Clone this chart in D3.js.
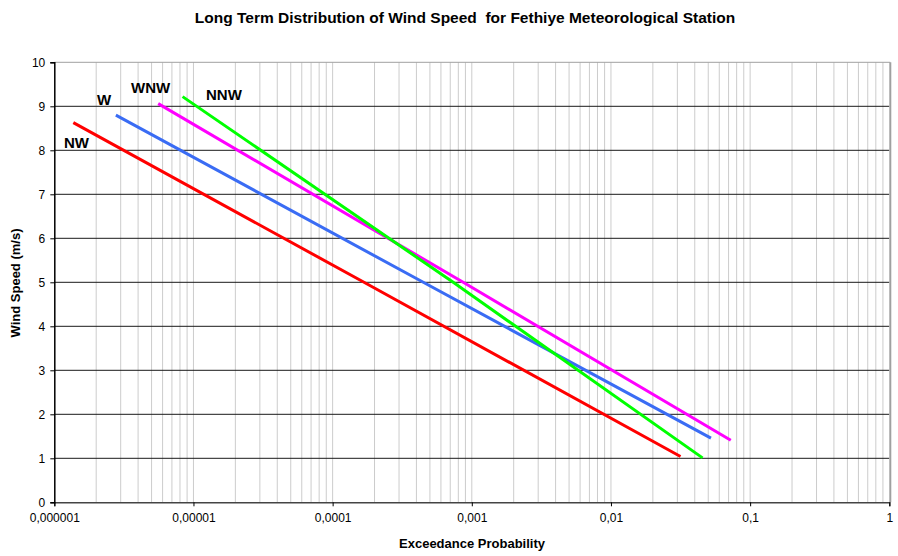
<!DOCTYPE html>
<html>
<head>
<meta charset="utf-8">
<script src="https://cdn.jsdelivr.net/npm/d3@7"></script>
<style>
  body { margin: 0; background: #fff; }
  text { font-family: "Liberation Sans", Arial, sans-serif; }
</style>
</head>
<body>
<svg width="898" height="556"></svg>
<script>
// wind speed vs exceedance probability, one line per direction
const directions = ["NW", "W", "WNW", "NNW"];
const colors = ["#ff0000", "#3a6cf4", "#ff00ff", "#00ff00"];

// values (start, middle, end of each line)
const probNW = [1.37e-6, 1.68e-4, 0.0316];
const speedNW = [8.63, 5, 1.04];
const probW = [2.77e-6, 4.48e-4, 0.0523];
const speedW = [8.8, 5, 1.46];
const probWNW = [5.58e-6, 8.67e-4, 0.0726];
const speedWNW = [9.06, 5, 1.41];
const probNNW = [8.35e-6, 7.35e-4, 0.0455];
const speedNNW = [9.22, 5, 1.01];

const xTicks = [1e-6, 1e-5, 1e-4, 1e-3, 1e-2, 1e-1, 1];
const xTickLabels = ["0,000001", "0,00001", "0,0001", "0,001", "0,01", "0,1", "1"];
const yTicks = [0, 1, 2, 3, 4, 5, 6, 7, 8, 9, 10];

const probs = [probNW, probW, probWNW, probNNW];
const speeds = [speedNW, speedW, speedWNW, speedNNW];

///////////// set up canvas
const svg = d3.select("svg"),
  width = +svg.attr("width"),
  height = +svg.attr("height");

const margin = { left: 54.3, right: 889.3, top: 62.3, bottom: 502.3 };

const x = d3.scaleLog().domain([1e-6, 1]).range([margin.left, margin.right]);
const y = d3.scaleLinear().domain([0, 10]).range([margin.bottom, margin.top]);

// light vertical grid at every 1..9 x 10^k
const minor = [];
for (let k = -6; k < 0; k++) {
  for (let m = 1; m <= 9; m++) minor.push(m * Math.pow(10, k));
}
svg
  .append("g")
  .selectAll("line")
  .data(minor.slice(1))
  .enter()
  .append("line")
  .attr("x1", (d) => x(d))
  .attr("x2", (d) => x(d))
  .attr("y1", margin.top)
  .attr("y2", margin.bottom)
  .attr("stroke", "#cccccc")
  .attr("stroke-width", 1);

// dark horizontal grid
svg
  .append("g")
  .selectAll("line")
  .data(yTicks.slice(1, -1))
  .enter()
  .append("line")
  .attr("x1", margin.left)
  .attr("x2", margin.right)
  .attr("y1", (d) => y(d))
  .attr("y2", (d) => y(d))
  .attr("stroke", "#1a1a1a")
  .attr("stroke-width", 1);

// plot border top and right
svg
  .append("line")
  .attr("x1", margin.left)
  .attr("x2", margin.right + 1)
  .attr("y1", margin.top)
  .attr("y2", margin.top)
  .attr("stroke", "#a0a0a0");
svg
  .append("line")
  .attr("x1", margin.right + 1)
  .attr("x2", margin.right + 1)
  .attr("y1", margin.top)
  .attr("y2", margin.bottom)
  .attr("stroke", "#a0a0a0")
  .attr("stroke-width", 2);

// axes
const xAxis = d3
  .axisBottom(x)
  .tickValues(xTicks)
  .tickSize(4)
  .tickFormat((d, i) => xTickLabels[i]);
const gx = svg
  .append("g")
  .attr("transform", `translate(0,${margin.bottom})`)
  .call(xAxis);
gx.select(".domain").attr("stroke", "#444").attr("stroke-width", 1.5);
gx.selectAll(".tick line").attr("stroke", "#000");
gx.selectAll(".tick text")
  .attr("font-size", 12)
  .attr("fill", "#000")
  .attr("font-family", "Liberation Sans, Arial, sans-serif")
  .attr("dy", "1.05em");

const yAxis = d3.axisLeft(y).tickValues(yTicks).tickSize(4).tickPadding(5);
const gy = svg
  .append("g")
  .attr("transform", `translate(${margin.left},0)`)
  .call(yAxis);
gy.select(".domain").attr("stroke", "#000").attr("stroke-width", 1.5);
gy.selectAll(".tick line").attr("stroke", "#000");
gy.selectAll(".tick text")
  .attr("font-size", 12)
  .attr("fill", "#000")
  .attr("font-family", "Liberation Sans, Arial, sans-serif");

// series lines
const line = d3
  .line()
  .x((d) => x(d[0]))
  .y((d) => y(d[1]));

svg
  .append("g")
  .selectAll("path")
  .data(directions)
  .enter()
  .append("path")
  .attr("fill", "none")
  .attr("stroke", (d, i) => colors[i])
  .attr("stroke-width", 3)
  .attr("d", (d, i) => {
    return line(probs[i].map((p, j) => [p, speeds[i][j]]));
  });

// direction labels placed near the start of each line
const labelPos = [
  [64, 148],
  [97, 105],
  [131, 93],
  [206, 100]
];
svg
  .append("g")
  .selectAll("text")
  .data(directions)
  .enter()
  .append("text")
  .attr("x", (d, i) => labelPos[i][0])
  .attr("y", (d, i) => labelPos[i][1])
  .attr("font-size", 15)
  .attr("font-weight", "bold")
  .text((d) => d);

// titles
svg
  .append("text")
  .attr("x", 465)
  .attr("y", 23)
  .attr("text-anchor", "middle")
  .attr("font-size", 15.5)
  .attr("font-weight", "bold")
  .style("white-space", "pre")
  .text("Long Term Distribution of Wind Speed  for Fethiye Meteorological Station");

svg
  .append("text")
  .attr("x", 472)
  .attr("y", 548)
  .attr("text-anchor", "middle")
  .attr("font-size", 13)
  .attr("font-weight", "bold")
  .text("Exceedance Probability");

svg
  .append("text")
  .attr("transform", "translate(20,283) rotate(-90)")
  .attr("text-anchor", "middle")
  .attr("font-size", 13)
  .attr("font-weight", "bold")
  .text("Wind Speed (m/s)");
</script>
</body>
</html>
